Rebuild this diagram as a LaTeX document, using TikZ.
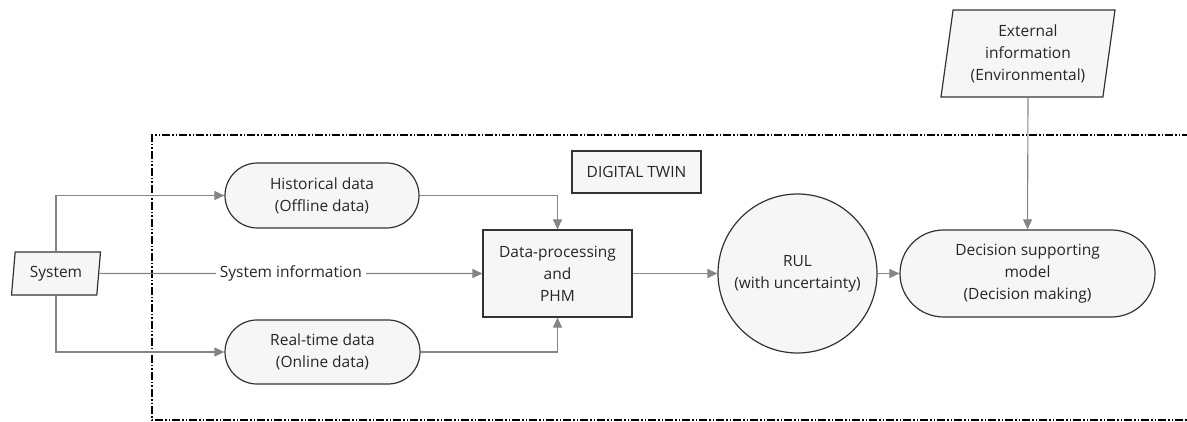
\documentclass[tikz,border=0pt]{standalone}
\usepackage{fontspec}
\setmainfont{Open Sans}
\usetikzlibrary{arrows.meta,shapes.geometric,shapes.misc}
\definecolor{bordc}{HTML}{333333}
\definecolor{fillc}{HTML}{F6F6F6}
\definecolor{arrc}{HTML}{858585}
\definecolor{textc}{HTML}{262626}
\begin{document}
\begin{tikzpicture}[x=1pt,y=-1pt,
  font=\fontsize{15.5}{22}\selectfont,
  every node/.style={text=textc},
  shapebase/.style={draw=bordc, fill=fillc, line width=1.2pt, align=center, inner sep=2pt},
  box/.style={shapebase, rectangle},
  stad/.style={shapebase, rounded rectangle},
  para/.style={shapebase, trapezium, trapezium left angle=79, trapezium right angle=101, trapezium stretches body},
  roundnode/.style={shapebase, circle},
  conn/.style={draw=arrc, line width=1.1pt, -{Triangle[length=10pt,width=9pt]}},
  frame/.style={draw=black, line width=1.4pt, dash pattern=on 8pt off 2pt on 1.5pt off 2pt on 1.5pt off 2pt}]
\useasboundingbox (0,0) rectangle (1187,422);

% digital twin boundary (open towards the right)
\draw[frame] (1190,135) -- (152,135) -- (152,420) -- (1190,420);

% nodes
\node[para, minimum width=89, minimum height=43] (sys) at (56,273.5) {System};
\node[stad, minimum width=198, minimum height=65] (hist) at (322,195.5) {Historical data\\(Offline data)};
\node[stad, minimum width=199, minimum height=64] (rt) at (322.5,352) {Real-time data\\(Online data)};
\node[box, minimum width=149, minimum height=87] (dp) at (557.5,273.5) {Data-processing\\and\\PHM};
\node[box, minimum width=129, minimum height=42] (dt) at (636.5,172) {DIGITAL TWIN};
\node[roundnode, minimum size=159] (rul) at (797.5,273.5) {RUL\\(with uncertainty)};
\node[stad, minimum width=259, minimum height=87] (dec) at (1027.5,273.5) {Decision supporting\\model\\(Decision making)};
\node[para, minimum width=174, minimum height=87] (ext) at (1028,53.5) {External\\information\\(Environmental)};

% connectors
\draw[conn] (sys.north) |- (hist.west);
\draw[conn] (sys.south) |- (rt.west);
\draw[conn] (sys.east) -- node[fill=white, inner sep=4pt] {System information} (dp.west);
\draw[conn] (hist.east) -| (dp.north);
\draw[conn] (rt.east) -| (dp.south);
\draw[conn] (dp.east) -- (rul.west);
\draw[conn] (rul.east) -- (dec.west);
\draw[conn] (ext.south) -- (dec.north);
\end{tikzpicture}
\end{document}
